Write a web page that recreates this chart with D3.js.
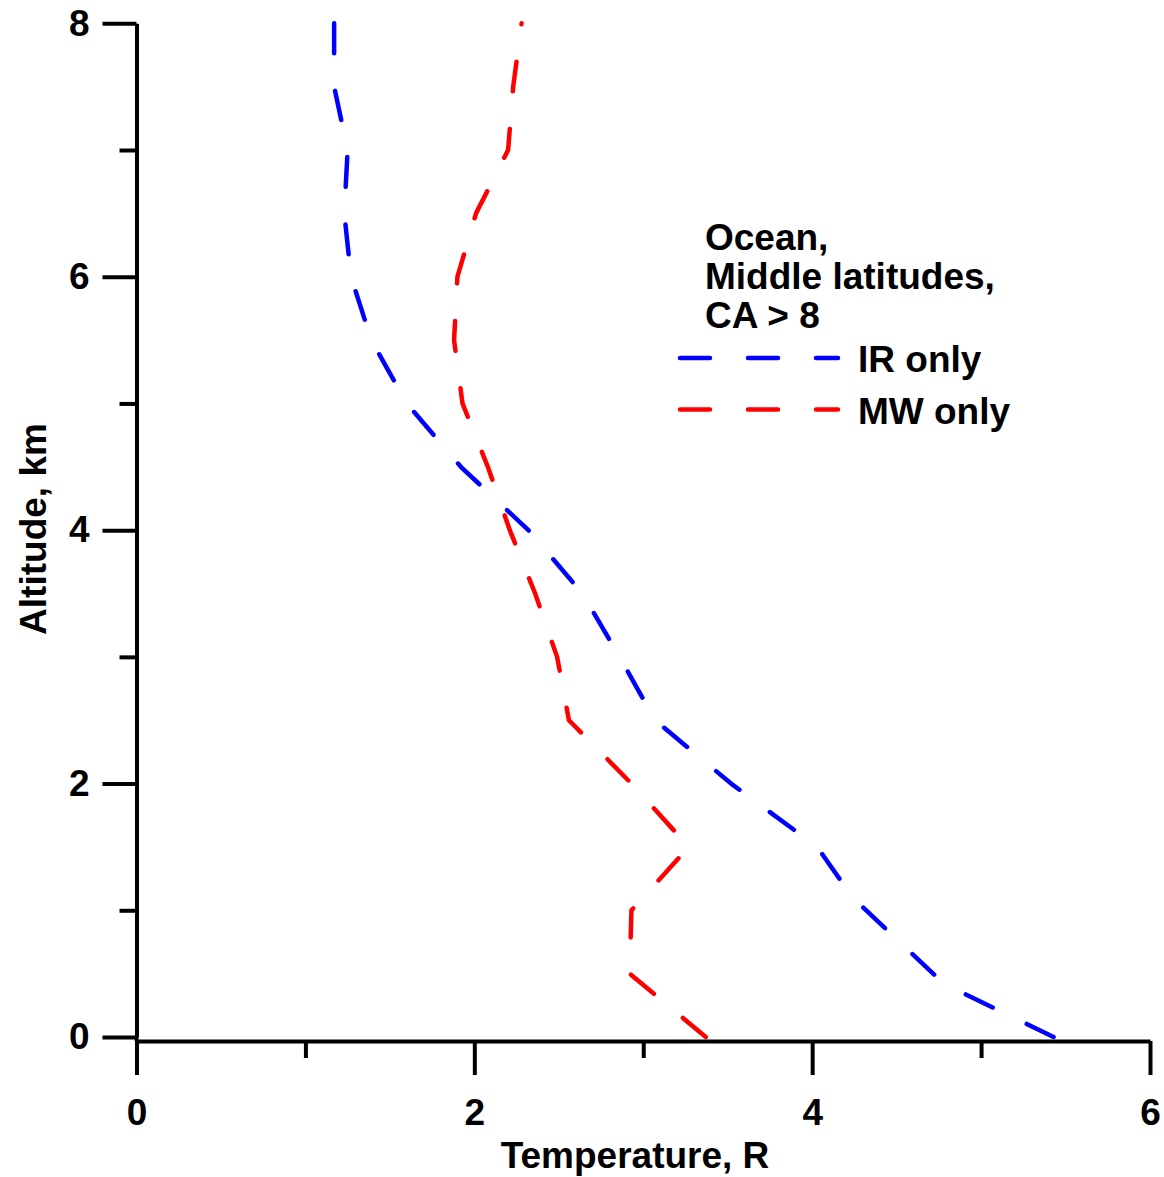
<!DOCTYPE html>
<html>
<head>
<meta charset="utf-8">
<style>
  body { margin: 0; background: #fff; }
  svg text { font-family: "Liberation Sans", Arial, sans-serif; font-weight: bold; fill: #000; }
</style>
</head>
<body>
<div id="chart"></div>
<script src="https://cdn.jsdelivr.net/npm/d3@7"></script>
<script>
// IR only profile, listed from the top down
const altIR  = [8, 7.5, 7, 6.5, 6, 5.5, 5, 4.5, 4, 3.5, 3, 2.5, 2, 1.5, 1.1, 0.42, 0];
const tempIR = [1.17, 1.17, 1.25, 1.23, 1.27, 1.39, 1.60, 1.92, 2.32, 2.64, 2.86, 3.07, 3.52, 4.03, 4.24, 4.78, 5.43];

// MW only profile, listed from the surface up
const altMW  = [0, 0.5, 1, 1.5, 2, 2.5, 3, 3.5, 4, 4.5, 5, 5.5, 6, 6.5, 7, 7.5, 8];
const tempMW = [3.37, 2.92, 2.93, 3.27, 2.93, 2.56, 2.49, 2.36, 2.21, 2.08, 1.93, 1.88, 1.90, 2.01, 2.20, 2.23, 2.28];

const xTicks = [0, 2, 4, 6];
const xMinor = [1, 3, 5];
const yTicks = [0, 2, 4, 6, 8];
const yMinor = [1, 3, 5, 7];

const legendTitle = ["Ocean,", "Middle latitudes,", "CA > 8"];
const seriesNames = ["IR only", "MW only"];
const seriesColors = ["#0000ff", "#ff0000"];

const width = 1164, height = 1177;
const x = d3.scaleLinear().domain([0, 6]).range([136.5, 1150]);
const y = d3.scaleLinear().domain([0, 8]).range([1037, 23.3]);

const svg = d3.select("#chart").append("svg")
  .attr("width", width)
  .attr("height", height);

const fontSize = 37;

// x axis (sits a few pixels under the y=0 level, as in the original)
const xAxisY = y(0) + 4;
const gx = svg.append("g").attr("transform", `translate(0,${xAxisY})`);
gx.call(d3.axisBottom(x).tickValues(xTicks).tickSize(34).tickSizeOuter(0).tickPadding(24).tickFormat(d3.format("d")));
gx.append("g").call(d3.axisBottom(x).tickValues(xMinor).tickSize(17).tickSizeOuter(0).tickFormat(""))
  .select(".domain").remove();

// y axis
const gy = svg.append("g").attr("transform", `translate(${x(0)},0)`);
gy.call(d3.axisLeft(y).tickValues(yTicks).tickSize(34).tickSizeOuter(0).tickPadding(13).tickFormat(d3.format("d")));
gy.append("g").call(d3.axisLeft(y).tickValues(yMinor).tickSize(17).tickSizeOuter(0).tickFormat(""))
  .select(".domain").remove();
gy.append("line").attr("x1", 0).attr("x2", 0).attr("y1", y(0)).attr("y2", xAxisY).attr("stroke", "#000").attr("stroke-width", 4);

svg.selectAll(".domain, .tick line").attr("stroke", "#000").attr("stroke-width", 4);
svg.selectAll(".tick text")
  .style("font-size", fontSize + "px")
  .style("font-family", '"Liberation Sans", Arial, sans-serif')
  .style("font-weight", "bold")
  .attr("fill", "#000");

// axis titles
svg.append("text")
  .attr("x", 635).attr("y", 1168)
  .attr("text-anchor", "middle")
  .style("font-size", fontSize + "px")
  .text("Temperature, R");

svg.append("text")
  .attr("transform", `translate(46,529) rotate(-90)`)
  .attr("text-anchor", "middle")
  .style("font-size", fontSize + "px")
  .text("Altitude, km");

// profiles
const line = d3.line()
  .x(d => x(d.t))
  .y(d => y(d.a));

const irData = altIR.map((a, i) => ({ a: a, t: tempIR[i] }));
const mwData = altMW.map((a, i) => ({ a: a, t: tempMW[i] }));

// dash pattern is stretched a little so that each line ends where the original does:
// IR ends on a full dash, MW ends on a dot
const endPhase = [30, 1];
[irData, mwData].forEach((data, i) => {
  const p = svg.append("path")
    .datum(data)
    .attr("d", line)
    .attr("fill", "none")
    .attr("stroke", seriesColors[i])
    .attr("stroke-width", 4.5)
    .attr("stroke-linecap", "round")
    .attr("stroke-linejoin", "round");
  const L = p.node().getTotalLength();
  const n = Math.round((L - endPhase[i]) / 68);
  const period = (L - endPhase[i]) / n;
  const dash = 30 * period / 68;
  p.attr("stroke-dasharray", `${dash} ${period - dash}`);
});

// legend
const legend = svg.append("g");
legendTitle.forEach((t, i) => {
  legend.append("text")
    .attr("x", 705).attr("y", 250 + i * 39)
    .style("font-size", fontSize + "px")
    .text(t);
});
seriesNames.forEach((name, i) => {
  const ly = 358 + i * 51.5;
  legend.append("line")
    .attr("x1", 680).attr("x2", 838)
    .attr("y1", ly).attr("y2", ly)
    .attr("stroke", seriesColors[i])
    .attr("stroke-width", 4.5)
    .attr("stroke-linecap", "round")
    .attr("stroke-dasharray", "30 38");
  legend.append("text")
    .attr("x", 858).attr("y", ly + 14)
    .style("font-size", fontSize + "px")
    .text(name);
});
</script>
</body>
</html>
